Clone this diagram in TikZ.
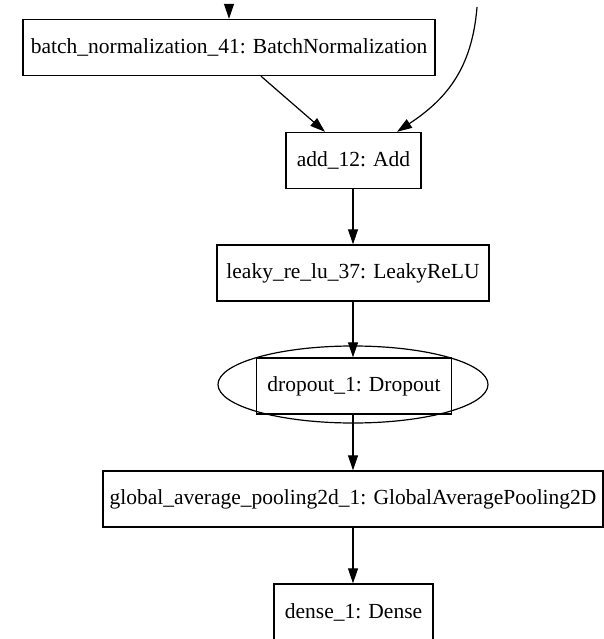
\documentclass[tikz,border=0pt]{standalone}
\usepackage{fontspec}
\setmainfont{Liberation Serif}
\usetikzlibrary{arrows.meta,shapes.geometric,calc}
\begin{document}
\begin{tikzpicture}[x=1pt,y=-1pt,
  layer/.style={draw, line width=1.4pt, inner sep=0pt, minimum height=56pt, font=\fontsize{21.5}{24}\selectfont},
  conn/.style={line width=1.2pt, -{Triangle[length=15pt,width=10pt]}}]
\useasboundingbox (0,0) rectangle (604,639);
\clip (0,0) rectangle (604,639);
\coordinate (in1) at (229,7);
\coordinate (in2) at (477,7);
\node[layer, minimum width=412pt] (bn) at (229,47.5) {batch\_normalization\_41: BatchNormalization};
\node[layer, minimum width=135pt] (add) at (353.5,160.5) {add\_12: Add};
\node[layer, minimum width=272pt] (lr) at (353,273) {leaky\_re\_lu\_37: LeakyReLU};
\node[draw, ellipse, line width=1.2pt, minimum width=270pt, minimum height=77pt, inner sep=0pt] (dropE) at (353,384.5) {};
\node[layer, minimum width=195pt] (drop) at (354,386) {dropout\_1: Dropout};
\node[layer, minimum width=500pt] (gap) at (353,499) {global\_average\_pooling2d\_1: GlobalAveragePooling2D};
\node[layer, minimum width=159pt] (dense) at (353.5,612) {dense\_1: Dense};
\draw[conn] (in1) -- (bn.north -| in1);
\draw[conn] (in2) .. controls (472,70) and (445,100) .. ($(add.north)+(43.5,0)$);
\draw[conn] ($(bn.south)+(32,0)$) -- ($(add.north)+(-28.5,0)$);
\draw[conn] (add.south -| lr.north) -- (lr.north);
\draw[conn] (lr.south) -- (lr.south |- drop.north);
\draw[conn] (drop.south -| gap.north) -- (gap.north);
\draw[conn] (gap.south) -- (gap.south |- dense.north);
\end{tikzpicture}
\end{document}
